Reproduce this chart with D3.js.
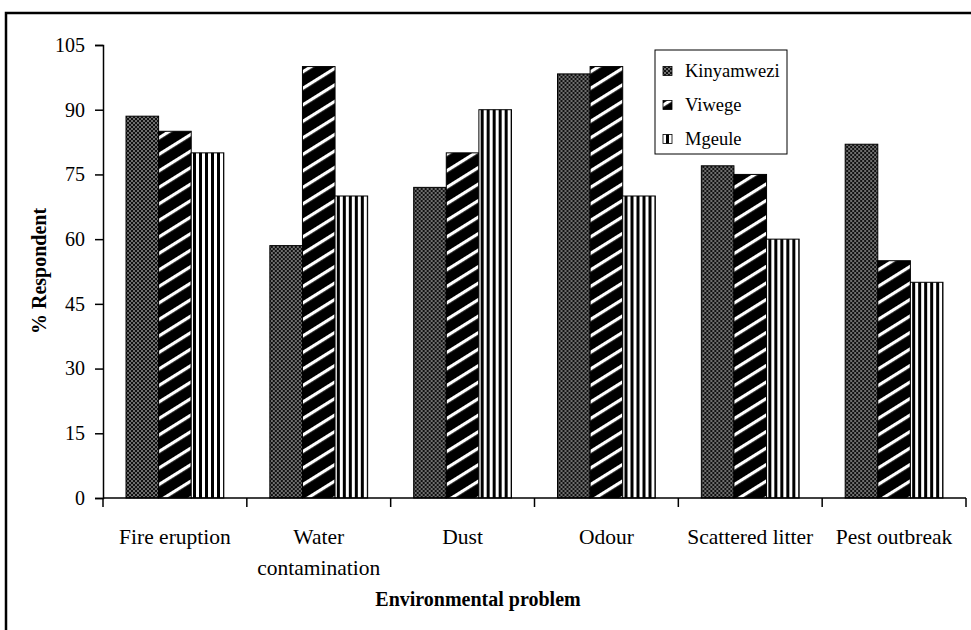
<!DOCTYPE html>
<html>
<head>
<meta charset="utf-8">
<script src="https://cdn.jsdelivr.net/npm/d3@7"></script>
<style>
  html, body { margin: 0; padding: 0; background: #fff; }
  svg { display: block; }
  text { font-family: "Liberation Serif", "Times New Roman", serif; fill: #000; }
</style>
</head>
<body>
<svg id="chart" width="971" height="630"></svg>
<script>
// ---- data ----
const categories = ["Fire eruption", "Water contamination", "Dust", "Odour", "Scattered litter", "Pest outbreak"];
const categoryLines = [["Fire eruption"], ["Water", "contamination"], ["Dust"], ["Odour"], ["Scattered litter"], ["Pest outbreak"]];
const seriesNames = ["Kinyamwezi", "Viwege", "Mgeule"];
const kinyamwezi = [88.5, 58.5, 72, 98.3, 77, 82];
const viwege = [85, 100, 80, 100, 75, 55];
const mgeule = [80, 70, 90, 70, 60, 50];
const yTicks = [0, 15, 30, 45, 60, 75, 90, 105];
const yTitle = "% Respondent";
const xTitle = "Environmental problem";

const seriesValues = [kinyamwezi, viwege, mgeule];

const svg = d3.select("#chart");

// ---- patterns ----
const defs = svg.append("defs");
// checkerboard
const p0 = defs.append("pattern").attr("id", "pat0").attr("patternUnits", "userSpaceOnUse")
  .attr("width", 4).attr("height", 4);
p0.append("rect").attr("width", 4).attr("height", 4).attr("fill", "#111");
p0.append("rect").attr("x", 0).attr("y", 0).attr("width", 2).attr("height", 2).attr("fill", "#6e6e6e");
p0.append("rect").attr("x", 2).attr("y", 2).attr("width", 2).attr("height", 2).attr("fill", "#6e6e6e");
// diagonal stripes
const p1 = defs.append("pattern").attr("id", "pat1").attr("patternUnits", "userSpaceOnUse")
  .attr("width", 14).attr("height", 14).attr("patternTransform", "rotate(-32)");
p1.append("rect").attr("width", 14).attr("height", 14).attr("fill", "#000");
p1.append("rect").attr("x", 0).attr("y", 5).attr("width", 14).attr("height", 3.2).attr("fill", "#fff");
// vertical stripes
const p2 = defs.append("pattern").attr("id", "pat2").attr("patternUnits", "userSpaceOnUse")
  .attr("width", 6).attr("height", 6);
p2.append("rect").attr("width", 6).attr("height", 6).attr("fill", "#fff");
p2.append("rect").attr("x", 0).attr("y", 0).attr("width", 3).attr("height", 6).attr("fill", "#000");

const fills = ["url(#pat0)", "url(#pat1)", "url(#pat2)"];

// ---- outer frame ----
svg.append("rect").attr("x", 6).attr("y", 13).attr("width", 1000).attr("height", 700)
  .attr("fill", "none").attr("stroke", "#000").attr("stroke-width", 2.5);

// ---- scales ----
const plot = { left: 103, right: 966, top: 45, bottom: 498 };
const x0 = d3.scaleBand().domain(categories).range([plot.left, plot.right]).padding(0);
const bw = x0.bandwidth();
const x1 = d3.scaleBand().domain(seriesNames).range([bw * 0.16, bw * 0.84]).padding(0);
const y = d3.scaleLinear().domain([0, 105]).range([plot.bottom, plot.top]);

// ---- bars ----
const groups = svg.append("g").selectAll("g").data(categories).join("g")
  .attr("transform", d => `translate(${x0(d)},0)`);
groups.selectAll("rect")
  .data((c, ci) => seriesNames.map((s, si) => ({ s, si, v: seriesValues[si][ci] })))
  .join("rect")
  .attr("x", d => x1(d.s))
  .attr("y", d => y(d.v))
  .attr("width", x1.bandwidth())
  .attr("height", d => y(0) - y(d.v))
  .attr("fill", d => fills[d.si])
  .attr("stroke", "#000")
  .attr("stroke-width", 1);

// ---- y axis ----
const yAxis = d3.axisLeft(y).tickValues(yTicks).tickSize(8).tickPadding(10);
const gy = svg.append("g").attr("transform", `translate(${plot.left},0)`).call(yAxis);
gy.select(".domain").attr("stroke", "#000").attr("stroke-width", 1.5);
gy.selectAll(".tick line").attr("stroke", "#000").attr("stroke-width", 1.5);
gy.selectAll(".tick text").attr("font-size", 20).attr("font-family", "Liberation Serif");

// ---- x axis ----
const xEdge = d3.scaleLinear().domain([0, categories.length]).range([plot.left, plot.right]);
svg.append("line").attr("x1", plot.left).attr("x2", plot.right).attr("y1", plot.bottom).attr("y2", plot.bottom)
  .attr("stroke", "#000").attr("stroke-width", 1.5);
svg.append("g").selectAll("line").data(d3.range(categories.length + 1)).join("line")
  .attr("x1", d => xEdge(d)).attr("x2", d => xEdge(d))
  .attr("y1", plot.bottom).attr("y2", plot.bottom + 9)
  .attr("stroke", "#000").attr("stroke-width", 1.5);

const labels = svg.append("g").selectAll("text").data(categories).join("text")
  .attr("x", d => x0(d) + bw / 2)
  .attr("y", 544)
  .attr("text-anchor", "middle")
  .attr("font-size", 21.5);
labels.selectAll("tspan").data((d, i) => categoryLines[i]).join("tspan")
  .attr("x", function () { return d3.select(this.parentNode).attr("x"); })
  .attr("dy", (d, i) => i === 0 ? 0 : 31)
  .text(d => d);

// ---- titles ----
svg.append("text").attr("x", 478).attr("y", 606).attr("text-anchor", "middle")
  .attr("font-size", 20).attr("font-weight", "bold").text(xTitle);
svg.append("text").attr("transform", "translate(46,271) rotate(-90)").attr("text-anchor", "middle")
  .attr("font-size", 20).attr("font-weight", "bold").text(yTitle);

// ---- legend ----
const lg = svg.append("g");
lg.append("rect").attr("x", 655).attr("y", 50).attr("width", 132).attr("height", 104)
  .attr("fill", "#fff").attr("stroke", "#000").attr("stroke-width", 1);
const ly = d3.scalePoint().domain(seriesNames).range([71, 139]);
seriesNames.forEach((s, i) => {
  lg.append("rect").attr("x", 663).attr("y", ly(s) - 4.5).attr("width", 9).attr("height", 9)
    .attr("fill", fills[i]).attr("stroke", "#000").attr("stroke-width", 0.8);
  lg.append("text").attr("x", 685).attr("y", ly(s) + 6).attr("font-size", 18.5).text(s);
});
</script>
</body>
</html>
